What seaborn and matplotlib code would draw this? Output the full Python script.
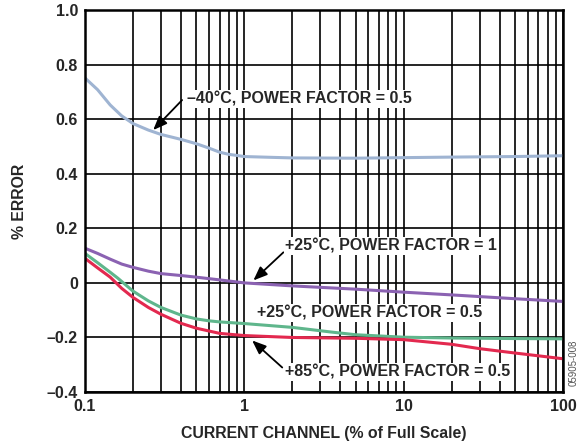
import numpy as np
import pandas as pd
import matplotlib
matplotlib.use("Agg")
import matplotlib.pyplot as plt
import seaborn as sns

# readings (x = % of full scale)
x_cold = [0.1, 0.12, 0.144, 0.17, 0.2, 0.25, 0.3, 0.4, 0.5, 0.6, 0.7, 0.8, 0.9, 1, 1.5,
          2, 5, 10, 20, 50, 100]
err_cold = [0.751, 0.708, 0.652, 0.612, 0.584, 0.560, 0.544, 0.526, 0.510, 0.494,
            0.479, 0.471, 0.467, 0.463, 0.460, 0.458, 0.457, 0.459, 0.461, 0.463, 0.466]

x_pf1 = [0.1, 0.12, 0.144, 0.17, 0.2, 0.25, 0.3, 0.4, 0.5, 0.7, 1, 2, 5, 10, 20, 50, 100]
err_pf1 = [0.127, 0.108, 0.087, 0.069, 0.057, 0.043, 0.034, 0.027, 0.021, 0.011, 0.0,
           -0.011, -0.023, -0.034, -0.044, -0.058, -0.068]

x_pf05 = [0.1, 0.12, 0.144, 0.161, 0.2, 0.25, 0.3, 0.4, 0.5, 0.6, 0.7, 1, 2, 3.5, 5, 10,
          20, 50, 100]
err_pf05 = [0.108, 0.074, 0.039, 0.017, -0.030, -0.066, -0.090, -0.118, -0.132, -0.139,
            -0.143, -0.149, -0.163, -0.180, -0.190, -0.199, -0.202, -0.204, -0.205]

x_hot = [0.1, 0.12, 0.144, 0.17, 0.2, 0.25, 0.3, 0.4, 0.5, 0.7, 1, 2, 5, 10, 20, 30, 50, 100]
err_hot = [0.090, 0.055, 0.021, -0.020, -0.053, -0.090, -0.115, -0.148, -0.166, -0.185,
           -0.193, -0.200, -0.203, -0.208, -0.225, -0.241, -0.257, -0.278]

series_names = ["-40C PF0.5", "+25C PF1", "+25C PF0.5", "+85C PF0.5"]
series_colors = ["#9fb4d2", "#8b62b2", "#5fb68c", "#e3294f"]

x_ticks = [0.1, 1, 10, 100]
x_ticklabels = ["0.1", "1", "10", "100"]
y_ticks = [-0.4, -0.2, 0, 0.2, 0.4, 0.6, 0.8, 1.0]
y_ticklabels = ["\u20130.4", "\u20130.2", "0", "0.2", "0.4", "0.6", "0.8", "1.0"]

frames = []
for name, xs, ys in zip(series_names, [x_cold, x_pf1, x_pf05, x_hot],
                        [err_cold, err_pf1, err_pf05, err_hot]):
    frames.append(pd.DataFrame({"current": xs, "error": ys, "series": name}))
df = pd.concat(frames, ignore_index=True)

sns.set_style("white")
plt.rcParams["font.family"] = ["Liberation Sans", "DejaVu Sans"]
plt.rcParams["font.weight"] = "bold"

fig = plt.figure(figsize=(5.78, 4.45), dpi=100)
ax = fig.add_axes([0.147, 0.119, 0.827, 0.8585])

ax.set_xscale("log")
ax.set_xlim(0.1, 100)
ax.set_ylim(-0.4, 1.0)

# grid first so the curves sit on top
ax.set_axisbelow(True)
ax.xaxis.set_minor_locator(matplotlib.ticker.LogLocator(base=10, subs=np.arange(2, 10)))
ax.xaxis.set_minor_formatter(matplotlib.ticker.NullFormatter())
ax.grid(True, which="both", axis="x", color="black", lw=1.2)
ax.grid(True, which="major", axis="y", color="black", lw=1.2)

sns.lineplot(data=df, x="current", y="error", hue="series", hue_order=series_names,
             palette=series_colors, lw=2.2, legend=False, ax=ax, sort=True,
             estimator=None)

ax.set_xticks(x_ticks)
ax.set_xticklabels(x_ticklabels, fontsize=11.5, fontweight="bold")
ax.set_yticks(y_ticks)
ax.set_yticklabels(y_ticklabels, fontsize=11.5, fontweight="bold")
ax.tick_params(which="both", length=0, pad=5)

for s in ax.spines.values():
    s.set_color("black")
    s.set_linewidth(1.8)

ax.set_xlabel("CURRENT CHANNEL (% of Full Scale)", fontsize=11.4, fontweight="bold", labelpad=9)
ax.set_ylabel("% ERROR", fontsize=11.4, fontweight="bold", labelpad=14)

arrow_kw = dict(arrowstyle="-|>,head_length=0.7,head_width=0.28", color="black",
                lw=1.3, mutation_scale=12, shrinkA=0, shrinkB=0)
box = dict(fc="white", ec="none", pad=1.0)

ax.annotate("", xy=(0.268, 0.560), xytext=(0.407, 0.670), arrowprops=arrow_kw)
ax.annotate("", xy=(1.14, 0.009), xytext=(1.76, 0.112), arrowprops=arrow_kw)
ax.annotate("", xy=(1.12, -0.211), xytext=(1.73, -0.310), arrowprops=arrow_kw)

lbl_kw = dict(fontsize=11.5, fontweight="bold", ha="left", va="center", bbox=box, zorder=5)
ax.text(0.438, 0.673, "\u201340\u00b0C, POWER FACTOR = 0.5", **lbl_kw)
ax.text(1.81, 0.134, "+25\u00b0C, POWER FACTOR = 1", **lbl_kw)
ax.text(1.21, -0.112, "+25\u00b0C, POWER FACTOR = 0.5", **lbl_kw)
ax.text(1.81, -0.328, "+85\u00b0C, POWER FACTOR = 0.5", **lbl_kw)

fig.text(0.993, 0.185, "05905-008", rotation=90, fontsize=7, fontweight="normal",
         color="#555555", ha="center", va="center")

fig.savefig("out.png", dpi=100)
